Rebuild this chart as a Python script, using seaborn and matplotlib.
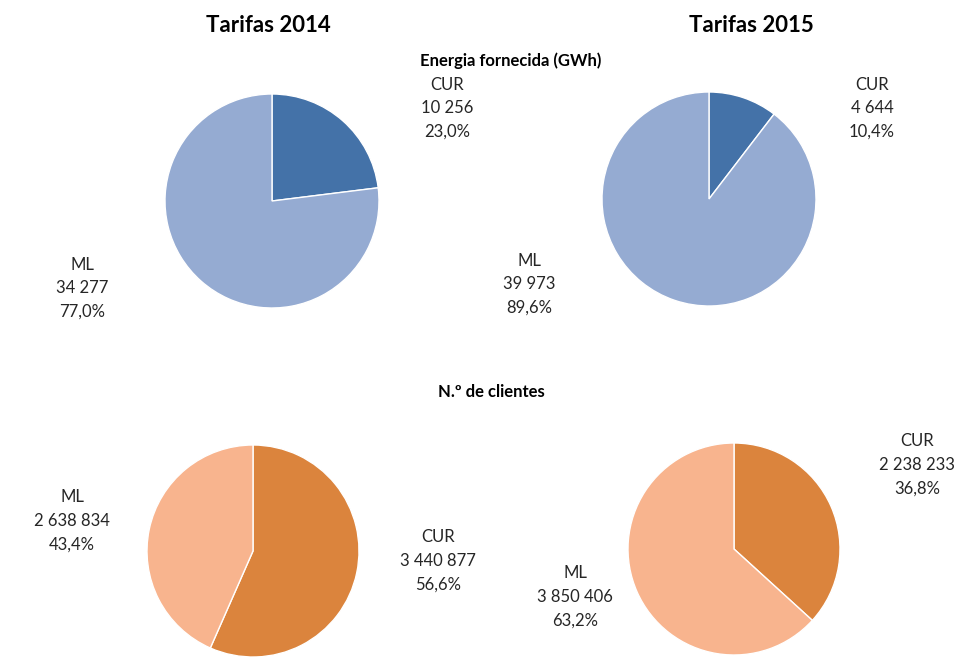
import matplotlib
matplotlib.use("Agg")
import matplotlib.pyplot as plt
import seaborn as sns

sns.set_theme(style="white")
plt.rcParams['font.family'] = ['Lato', 'DejaVu Sans']

categories = ["CUR", "ML"]
energia_2014 = [10256, 34277]
energia_2015 = [4644, 39973]
clientes_2014 = [3440877, 2638834]
clientes_2015 = [2238233, 3850406]

blue_pal = ["#4472A8", "#95ABD2"]
orange_pal = ["#DB843D", "#F8B48E"]

W, H = 959, 657
fig = plt.figure(figsize=(W / 100, H / 100), dpi=100)
fig.patch.set_facecolor("white")

def fx(x):
    return x / W

def fy(y):
    return 1 - y / H

def fmt_num(v):
    return f"{v:,}".replace(",", " ")

def fmt_pct(p):
    return f"{p:.1f}%".replace(".", ",")

TXT = "#262626"

def draw_pie(cx, cy, r, values, colors, label_pos):
    ax = fig.add_axes([fx(cx - r), fy(cy + r), 2 * r / W, 2 * r / H])
    ax.pie(values, colors=colors, startangle=90, counterclock=False,
           wedgeprops=dict(edgecolor="white", linewidth=1.0))
    ax.set_aspect("equal")
    ax.set_xlim(-1, 1)
    ax.set_ylim(-1, 1)
    ax.axis("off")
    total = sum(values)
    for cat, v, (lx, ly) in zip(categories, values, label_pos):
        lines = [cat, fmt_num(v), fmt_pct(100 * v / total)]
        for i, line in enumerate(lines):
            fig.text(fx(lx), fy(ly + (i - 1) * 23.5), line, ha="center", va="center",
                     fontsize=12, color=TXT)

draw_pie(272, 201, 107, energia_2014, blue_pal, [(447, 108), (82, 288)])
draw_pie(709, 199, 107, energia_2015, blue_pal, [(872, 108), (529, 284)])
draw_pie(253, 551, 106, clientes_2014, orange_pal, [(438, 561), (72, 521)])
draw_pie(734, 549, 106, clientes_2015, orange_pal, [(917, 465), (575, 597)])

fig.text(fx(268), fy(25), "Tarifas 2014", ha="center", va="center",
         fontsize=16, fontweight="bold", color="black")
fig.text(fx(751), fy(25), "Tarifas 2015", ha="center", va="center",
         fontsize=16, fontweight="bold", color="black")
fig.text(fx(511), fy(61), "Energia fornecida (GWh)", ha="center", va="center",
         fontsize=12, fontweight="bold", color="black")
fig.text(fx(491), fy(392), "N.º de clientes", ha="center", va="center",
         fontsize=12, fontweight="bold", color="black")

fig.savefig("out.png", dpi=100, facecolor="white")
